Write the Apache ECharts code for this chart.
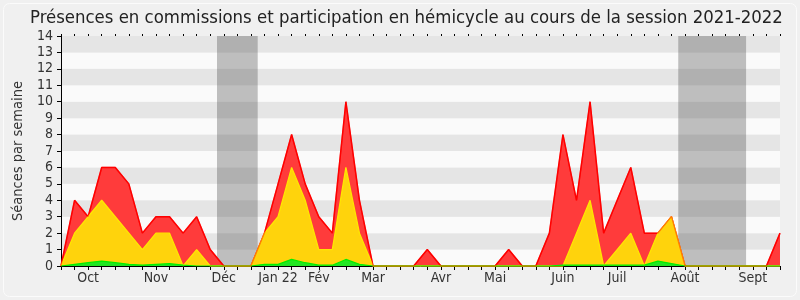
<!DOCTYPE html>
<html>
<head>
<meta charset="utf-8">
<script src="https://cdn.jsdelivr.net/npm/echarts@6/dist/echarts.min.js"></script>
<style>
html,body{margin:0;padding:0;background:#f0f0f0;}
#chart{width:800px;height:300px;}
</style>
</head>
<body>
<div id="chart"></div>
<script>
// Weekly values (cumulative top lines of each layer), week index 0..53
const totalSeances = [0,4,3,6,6,5,2,3,3,2,3,1,0,0,0,2,5,8,5,3,2,10,4,0,0,0,0,1,0,0,0,0,0,1,0,0,2,8,4,10,2,4,6,2,2,3,0,0,0,0,0,0,0,2];
const commissions  = [0,2,3,4,3,2,1,2,2,0,1,0,0,0,0,2,3,6,4,1,1,6,2,0,0,0,0,0,0,0,0,0,0,0,0,0,0,0,2,4,0,1,2,0,2,3,0,0,0,0,0,0,0,0];
const autres       = [0,0.1,0.2,0.3,0.2,0.1,0.05,0.1,0.15,0.05,0,0,0,0,0,0.1,0.1,0.4,0.2,0.05,0.05,0.4,0.1,0,0,0,0,0,0,0,0,0,0,0,0,0,0,0.05,0.05,0.05,0.05,0.05,0.05,0.05,0.3,0.15,0,0,0,0,0,0,0,0];
const monthLabels = ['Oct','Nov','Déc','Jan 22','Fév','Mar','Avr','Mai','Juin','Juil','Août','Sept'];
const monthLabelWeeks = [2,7,12,16,19,23,28,32,37,41,46,51];
const recessPeriods = [[11.5,14.5],[45.5,50.5]];
const yTicks = [0,14];

const labelMap = {};
monthLabelWeeks.forEach((w,i)=>{labelMap[w]=monthLabels[i];});
const toPairs = arr => arr.map((v,i)=>[i,v]);
const lastWeek = totalSeances.length - 1;

const chart = echarts.init(document.getElementById('chart'), null, {renderer:'canvas'});
const font = 'DejaVu Sans Condensed, DejaVu Sans';
chart.setOption({
  backgroundColor:'#f0f0f0',
  animation:false,
  textStyle:{fontFamily:font},
  title:{
    text:'Présences en commissions et participation en hémicycle au cours de la session 2021-2022',
    left:25, top:4,
    textStyle:{fontFamily:font,fontSize:18.4,fontWeight:'normal',color:'#222'}
  },
  graphic:[{type:'rect',z:-1,shape:{x:3.5,y:3.5,width:793,height:293,r:6},style:{fill:'none',stroke:'#fbfbfb',lineWidth:1}}],
  grid:{left:61,right:20,top:36,bottom:34},
  xAxis:[{
    type:'value', min:0, max:lastWeek, interval:1,
    axisLine:{lineStyle:{color:'#000',width:1}},
    axisTick:{show:true,length:4,lineStyle:{color:'#000'}},
    splitLine:{show:false},
    axisLabel:{margin:5,fontSize:14,color:'#333',fontFamily:font,
      formatter:v=>labelMap[v]||''}
  },{
    type:'value', min:0, max:lastWeek, interval:1, position:'top',
    axisLine:{show:false},
    axisTick:{show:true,length:2,inside:false,lineStyle:{color:'#000'}},
    axisLabel:{show:false}, splitLine:{show:false}
  }],
  yAxis:{
    type:'value', min:yTicks[0], max:yTicks[1], interval:1,
    name:'Séances par semaine', nameLocation:'middle', nameGap:35,
    nameTextStyle:{fontSize:14.5,color:'#333',fontFamily:font},
    axisLine:{show:true,lineStyle:{color:'#000'}},
    axisTick:{show:true,length:4,lineStyle:{color:'#000'}},
    axisLabel:{margin:8,fontSize:14,color:'#333',fontFamily:font},
    splitLine:{show:false},
    splitArea:{show:true,areaStyle:{color:['#fafafa','#e5e5e5']}}
  },
  series:[
    {type:'line',z:1,data:[],silent:true,
      markArea:{silent:true,itemStyle:{color:'rgba(76,76,76,0.35)'},
        data:recessPeriods.map(p=>[{xAxis:p[0]},{xAxis:p[1]}])}},
    {type:'line',z:2,data:toPairs(totalSeances),symbol:'none',
      lineStyle:{color:'#ff0000',width:1.5},
      areaStyle:{color:'#ff3b3b',opacity:1}},
    {type:'line',z:3,data:toPairs(commissions),symbol:'none',
      lineStyle:{color:'#ffe600',width:1.3},
      areaStyle:{color:'#ffd30c',opacity:1}},
    {type:'line',z:4,data:toPairs(autres),symbol:'none',
      lineStyle:{color:'#00ee00',width:1.2},
      areaStyle:{color:'#22e622',opacity:1}},
    {type:'line',z:5,data:toPairs(totalSeances),symbol:'none',silent:true,
      lineStyle:{color:'#ff0000',width:1.2,opacity:0.45}}
  ]
});
</script>
</body>
</html>
